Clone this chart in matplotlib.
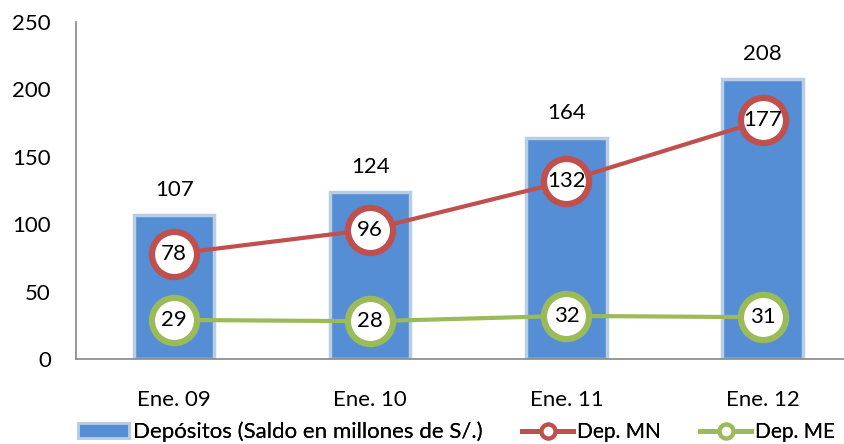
import matplotlib
matplotlib.use("Agg")
import matplotlib.pyplot as plt
from matplotlib.lines import Line2D
from matplotlib.patches import Patch

categories = ["Ene. 09", "Ene. 10", "Ene. 11", "Ene. 12"]
depositos = [107, 124, 164, 208]
dep_mn = [78, 96, 132, 177]
dep_me = [29, 28, 32, 31]
yticks = [0, 50, 100, 150, 200, 250]
legend_labels = ["Depósitos (Saldo en millones de S/.)", "Dep. MN", "Dep. ME"]

plt.rcParams['font.family'] = ['Lato', 'DejaVu Sans']
FS = 16

BAR = '#558ED5'
BAR_EDGE = '#B9CDE5'
RED = '#C0504D'
GREEN = '#9BBB59'
AXC = '#868686'

fig = plt.figure(figsize=(8.45, 4.44), dpi=100)
ax = fig.add_axes([76/845, 85/444, 1 - 76/845, 337/444])
x = list(range(len(categories)))

ax.bar(x, depositos, width=0.41, color=BAR, edgecolor=BAR_EDGE, linewidth=2.5, zorder=2)
for xi, v in zip(x, depositos):
    ax.annotate(str(v), (xi, v), xytext=(0, 18), textcoords='offset points',
                ha='center', va='center', fontsize=FS, color='black')

for vals, col in ((dep_mn, RED), (dep_me, GREEN)):
    ax.plot(x, vals, color=col, lw=3, zorder=3, solid_capstyle='round')
    ax.plot(x, vals, ls='none', marker='o', ms=32.5, mfc='white', mec=col, mew=4.5, zorder=4)
    for xi, v in zip(x, vals):
        ax.text(xi, v, str(v), ha='center', va='center', fontsize=FS, color='black', zorder=5)

ax.set_xlim(-0.5, 3.42)
ax.set_ylim(0, 250)
ax.set_yticks(yticks)
ax.set_xticks(x)
ax.set_xticklabels(categories)
ax.tick_params(axis='both', length=0, labelsize=FS, colors='black')
ax.tick_params(axis='y', pad=18)
ax.tick_params(axis='x', pad=22)
for s in ('top', 'right'):
    ax.spines[s].set_visible(False)
for s in ('left', 'bottom'):
    ax.spines[s].set_color(AXC)
    ax.spines[s].set_linewidth(1.2)

handles = [
    Patch(facecolor=BAR, edgecolor=BAR_EDGE, linewidth=2),
    Line2D([0], [0], color=RED, lw=3.5, marker='o', ms=10, mfc='white', mec=RED, mew=3),
    Line2D([0], [0], color=GREEN, lw=3.5, marker='o', ms=10, mfc='white', mec=GREEN, mew=3),
]
starts = [78, 522, 700]
sizes = [16, 15, 15]
hlens = [2.3, 2.45, 2.45]
for h, lab, xs, fs, hl in zip(handles, legend_labels, starts, sizes, hlens):
    leg = fig.legend([h], [lab], loc='center left', bbox_to_anchor=(xs/845, 12/444),
                     frameon=False, fontsize=fs, handlelength=hl, handletextpad=0.18,
                     borderpad=0, borderaxespad=0, handleheight=0.7)
    fig.add_artist(leg)

fig.savefig("out.png", dpi=100)
